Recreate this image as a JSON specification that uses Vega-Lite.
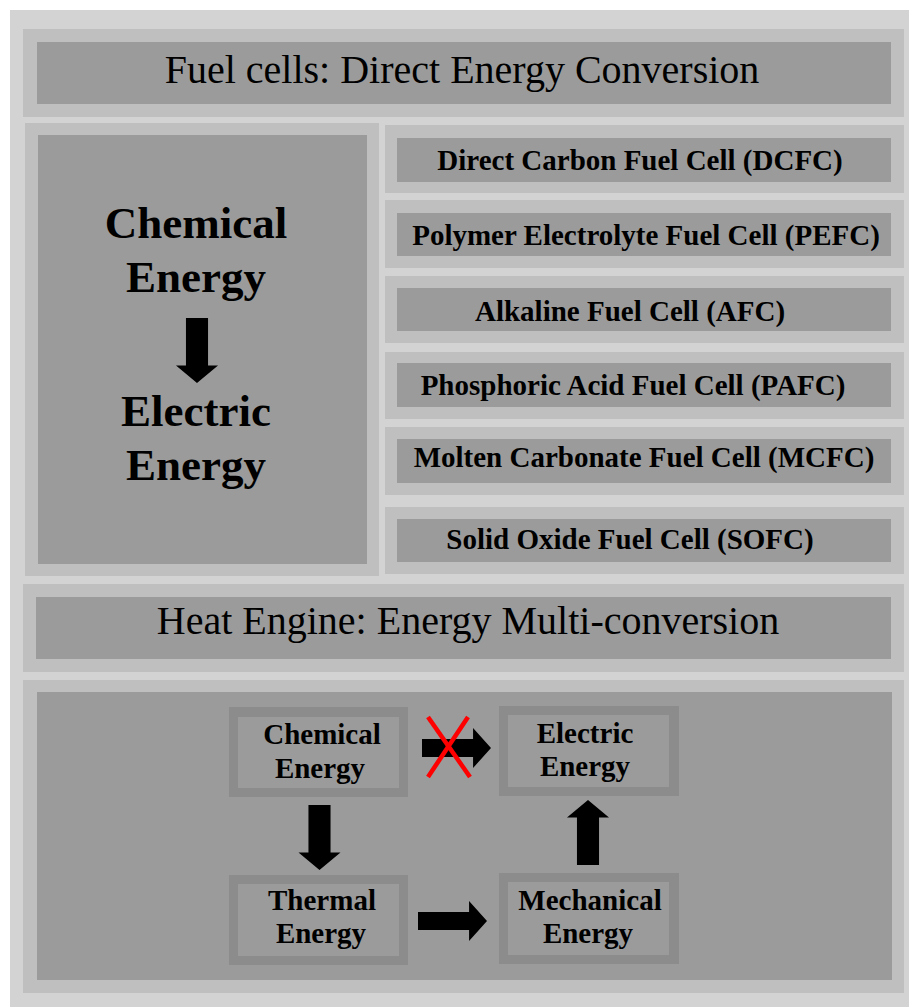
{
  "$schema": "https://vega.github.io/schema/vega-lite/v6.json",
  "width": 909,
  "height": 1007,
  "autosize": {"type": "none"},
  "padding": 0,
  "background": "white",
  "config": {"view": {"stroke": null}},
  "datasets": {
    "rects": [
      {"level": "outer", "x0": 10, "x1": 909, "y0": 10, "y1": 1007},
      {"level": "panel", "x0": 23, "x1": 904, "y0": 29, "y1": 117},
      {"level": "inner", "x0": 37, "x1": 891, "y0": 42, "y1": 104},
      {"level": "panel", "x0": 25, "x1": 379, "y0": 123, "y1": 576},
      {"level": "inner", "x0": 38, "x1": 367, "y0": 135, "y1": 564},
      {"level": "panel", "x0": 385, "x1": 904, "y0": 125, "y1": 193},
      {"level": "inner", "x0": 397, "x1": 891, "y0": 138, "y1": 182},
      {"level": "panel", "x0": 385, "x1": 904, "y0": 200, "y1": 268},
      {"level": "inner", "x0": 397, "x1": 891, "y0": 213, "y1": 256},
      {"level": "panel", "x0": 385, "x1": 904, "y0": 276, "y1": 343},
      {"level": "inner", "x0": 397, "x1": 891, "y0": 288, "y1": 331},
      {"level": "panel", "x0": 385, "x1": 904, "y0": 352, "y1": 419},
      {"level": "inner", "x0": 397, "x1": 891, "y0": 363, "y1": 407},
      {"level": "panel", "x0": 385, "x1": 904, "y0": 427, "y1": 495},
      {"level": "inner", "x0": 397, "x1": 891, "y0": 439, "y1": 483},
      {"level": "panel", "x0": 385, "x1": 904, "y0": 507, "y1": 574},
      {"level": "inner", "x0": 397, "x1": 891, "y0": 519, "y1": 562},
      {"level": "panel", "x0": 23, "x1": 904, "y0": 584, "y1": 672},
      {"level": "inner", "x0": 36, "x1": 891, "y0": 597, "y1": 659},
      {"level": "panel", "x0": 23, "x1": 904, "y0": 680, "y1": 993},
      {"level": "inner", "x0": 37, "x1": 892, "y0": 692, "y1": 980},
      {"level": "border", "x0": 229, "x1": 408, "y0": 707, "y1": 797},
      {"level": "inner", "x0": 238, "x1": 399, "y0": 717, "y1": 788},
      {"level": "border", "x0": 499, "x1": 679, "y0": 706, "y1": 796},
      {"level": "inner", "x0": 508, "x1": 669, "y0": 715, "y1": 787},
      {"level": "border", "x0": 229, "x1": 408, "y0": 875, "y1": 965},
      {"level": "inner", "x0": 238, "x1": 399, "y0": 884, "y1": 956},
      {"level": "border", "x0": 499, "x1": 679, "y0": 873, "y1": 964},
      {"level": "inner", "x0": 508, "x1": 669, "y0": 882, "y1": 955}
    ],
    "headers": [
      {"label": "Fuel cells: Direct Energy Conversion", "x": 462, "y": 83},
      {"label": "Heat Engine: Energy Multi-conversion", "x": 468, "y": 634}
    ],
    "big": [
      {"label": "Chemical", "x": 196, "y": 238},
      {"label": "Energy", "x": 196, "y": 292},
      {"label": "Electric", "x": 196, "y": 426},
      {"label": "Energy", "x": 196, "y": 480}
    ],
    "cells": [
      {"label": "Direct Carbon Fuel Cell (DCFC)", "x": 640, "y": 170},
      {"label": "Polymer Electrolyte Fuel Cell (PEFC)", "x": 646, "y": 245},
      {"label": "Alkaline Fuel Cell (AFC)", "x": 630, "y": 321},
      {"label": "Phosphoric Acid Fuel Cell (PAFC)", "x": 633, "y": 395},
      {"label": "Molten Carbonate Fuel Cell (MCFC)", "x": 644, "y": 467},
      {"label": "Solid Oxide Fuel Cell (SOFC)", "x": 630, "y": 549},
      {"label": "Chemical", "x": 322, "y": 744},
      {"label": "Energy", "x": 320, "y": 778},
      {"label": "Electric", "x": 585, "y": 743},
      {"label": "Energy", "x": 585, "y": 776},
      {"label": "Thermal", "x": 322, "y": 910},
      {"label": "Energy", "x": 321, "y": 943},
      {"label": "Mechanical", "x": 590, "y": 910},
      {"label": "Energy", "x": 588, "y": 943}
    ],
    "arrows": [
      {"dir": "down", "x": 197, "y": 350.5},
      {"dir": "down", "x": 319.5, "y": 837.5},
      {"dir": "up", "x": 588, "y": 832.5},
      {"dir": "right", "x": 456.5, "y": 748},
      {"dir": "right", "x": 452.5, "y": 921}
    ],
    "cross": [
      {"x0": 428, "y0": 717, "x1": 470, "y1": 777},
      {"x0": 468, "y0": 717, "x1": 428, "y1": 777}
    ]
  },
  "layer": [
    {
      "data": {"name": "rects"},
      "mark": {"type": "rect", "strokeWidth": 0},
      "encoding": {
        "x": {"field": "x0", "type": "quantitative", "scale": {"domain": [0, 909], "nice": false, "zero": false}, "axis": null},
        "x2": {"field": "x1"},
        "y": {"field": "y0", "type": "quantitative", "scale": {"domain": [0, 1007], "nice": false, "zero": false, "reverse": true}, "axis": null},
        "y2": {"field": "y1"},
        "color": {"field": "level", "type": "nominal", "scale": {"domain": ["outer", "panel", "inner", "border"], "range": ["#d3d3d3", "#bfbfbf", "#9b9b9b", "#8c8c8c"]}, "legend": null}
      }
    },
    {
      "data": {"name": "headers"},
      "mark": {"type": "text", "font": "Liberation Serif", "fontSize": 40, "fontWeight": "normal", "baseline": "alphabetic", "align": "center", "color": "#000"},
      "encoding": {
        "x": {"field": "x", "type": "quantitative"},
        "y": {"field": "y", "type": "quantitative"},
        "text": {"field": "label"}
      }
    },
    {
      "data": {"name": "big"},
      "mark": {"type": "text", "font": "Liberation Serif", "fontSize": 45, "fontWeight": "bold", "baseline": "alphabetic", "align": "center", "color": "#000"},
      "encoding": {
        "x": {"field": "x", "type": "quantitative"},
        "y": {"field": "y", "type": "quantitative"},
        "text": {"field": "label"}
      }
    },
    {
      "data": {"name": "cells"},
      "mark": {"type": "text", "font": "Liberation Serif", "fontSize": 29, "fontWeight": "bold", "baseline": "alphabetic", "align": "center", "color": "#000"},
      "encoding": {
        "x": {"field": "x", "type": "quantitative"},
        "y": {"field": "y", "type": "quantitative"},
        "text": {"field": "label"}
      }
    },
    {
      "data": {"name": "arrows"},
      "mark": {"type": "point", "filled": true, "size": 4761, "opacity": 1, "color": "#000", "strokeWidth": 0},
      "encoding": {
        "x": {"field": "x", "type": "quantitative"},
        "y": {"field": "y", "type": "quantitative"},
        "shape": {"field": "dir", "type": "nominal", "legend": null, "scale": {"domain": ["down", "up", "right"], "range": [
          "M-0.32,-0.942L0.32,-0.942L0.32,0.435L0.609,0.435L0,0.942L-0.609,0.435L-0.32,0.435Z",
          "M-0.32,0.942L0.32,0.942L0.32,-0.435L0.609,-0.435L0,-0.942L-0.609,-0.435L-0.32,-0.435Z",
          "M-1,-0.26L0.48,-0.26L0.48,-0.58L1,0L0.48,0.58L0.48,0.26L-1,0.26Z"
        ]}}
      }
    },
    {
      "data": {"name": "cross"},
      "mark": {"type": "rule", "color": "#f00", "strokeWidth": 4.5},
      "encoding": {
        "x": {"field": "x0", "type": "quantitative"},
        "y": {"field": "y0", "type": "quantitative"},
        "x2": {"field": "x1"},
        "y2": {"field": "y1"}
      }
    }
  ]
}
